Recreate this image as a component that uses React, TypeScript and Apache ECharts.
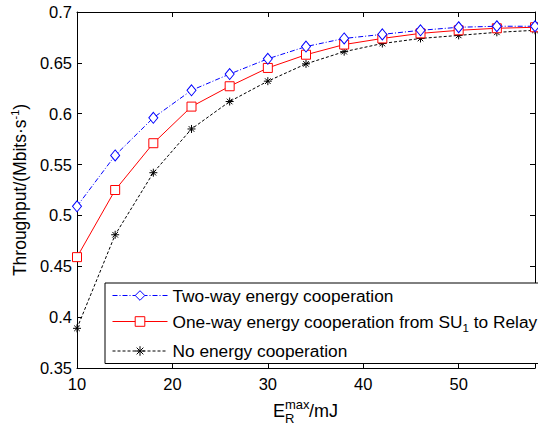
import React, { useEffect, useRef } from "react";
import * as echarts from "echarts";

const xValues = [10, 14, 18, 22, 26, 30, 34, 38, 42, 46, 50, 54, 58];
const twoWay = [0.509, 0.559, 0.596, 0.623, 0.639, 0.654, 0.666, 0.674, 0.678, 0.682, 0.685, 0.686, 0.686];
const oneWay = [0.459, 0.525, 0.571, 0.607, 0.627, 0.645, 0.658, 0.668, 0.674, 0.679, 0.682, 0.684, 0.685];
const noCoop = [0.389, 0.481, 0.542, 0.585, 0.612, 0.632, 0.649, 0.661, 0.669, 0.674, 0.677, 0.680, 0.682];
const seriesNames = [
  "Two-way energy cooperation",
  "One-way energy cooperation from SU1 to Relay",
  "No energy cooperation",
];

const FONT = "'Liberation Sans', Arial, sans-serif";
const ASTERISK = "path://M0,-1L0,1M-1,0L1,0M-0.7,-0.7L0.7,0.7M-0.7,0.7L0.7,-0.7";

const pairs = (ys: number[]) => xValues.map((x, i) => [x, ys[i]]);

export default function App() {
  const ref = useRef<HTMLDivElement>(null);
  useEffect(() => {
    if (!ref.current) return;
    const chart = echarts.init(ref.current, null, { renderer: "svg" });
    const axisCommon = {
      axisLine: { show: true, lineStyle: { color: "#000", width: 1 } },
      axisTick: { show: true, inside: true, length: 5, lineStyle: { color: "#000" } },
      splitLine: { show: false },
    };
    chart.setOption({
      animation: false,
      backgroundColor: "#fff",
      grid: { left: 77, right: 3, top: 12, bottom: 60, containLabel: false },
      xAxis: [
        {
          type: "value", min: 10, max: 58, interval: 10, position: "bottom",
          ...axisCommon,
          axisLabel: {
            color: "#000", fontSize: 16.5, fontFamily: FONT, margin: 7,
            showMaxLabel: false,
            formatter: (v: number) => (v % 10 === 0 ? String(v) : ""),
          },
        },
        {
          type: "value", min: 10, max: 58, interval: 10, position: "top",
          ...axisCommon, axisLabel: { show: false },
        },
      ],
      yAxis: [
        {
          type: "value", min: 0.35, max: 0.7, interval: 0.05, position: "left",
          ...axisCommon,
          axisLabel: { color: "#000", fontSize: 16.5, fontFamily: FONT, margin: 5 },
          name: "{a|Throughput/(Mbits·s}{sup|-1}{a|)}",
          nameLocation: "middle",
          nameRotate: 90,
          nameGap: 47,
          nameTextStyle: {
            rich: {
              a: { fontSize: 17.5, fontFamily: FONT, color: "#000", lineHeight: 20 },
              sup: { fontSize: 11, fontFamily: FONT, color: "#000", lineHeight: 20, verticalAlign: "top" },
            },
          },
        },
        {
          type: "value", min: 0.35, max: 0.7, interval: 0.05, position: "right",
          ...axisCommon, axisLabel: { show: false },
        },
      ],
      legend: {
        orient: "vertical",
        left: 105,
        top: 283,
        padding: [4, 6, 4, 7],
        itemGap: 9,
        itemWidth: 55,
        itemHeight: 12,
        borderColor: "#000",
        borderWidth: 1,
        backgroundColor: "#fff",
        z: 10,
        lineStyle: { width: 1 },
        itemStyle: { borderWidth: 1 },
        data: seriesNames,
        formatter: (name: string) =>
          name.indexOf("SU1") >= 0
            ? "{a|One-way energy cooperation from SU}{s|1}{a| to Relay}"
            : "{a|" + name + "}",
        textStyle: {
          rich: {
            a: { fontSize: 17.3, fontFamily: FONT, color: "#000", lineHeight: 20 },
            s: { fontSize: 11.5, fontFamily: FONT, color: "#000", lineHeight: 24, verticalAlign: "bottom" },
          },
        },
      },
      graphic: [
        { type: "text", x: 273, y: 410.7, style: { text: "E", fontSize: 18, fontFamily: FONT, fill: "#000", align: "left", verticalAlign: "middle" } },
        { type: "text", x: 285, y: 404, style: { text: "max", fontSize: 13, fontFamily: FONT, fill: "#000", align: "left", verticalAlign: "middle" } },
        { type: "text", x: 285, y: 418.2, style: { text: "R", fontSize: 13, fontFamily: FONT, fill: "#000", align: "left", verticalAlign: "middle" } },
        { type: "text", x: 309, y: 410.7, style: { text: "/mJ", fontSize: 18, fontFamily: FONT, fill: "#000", align: "left", verticalAlign: "middle" } },
      ],
      series: [
        {
          name: seriesNames[2], type: "line", data: pairs(noCoop),
          symbol: ASTERISK, symbolSize: 8,
          lineStyle: { color: "#000", width: 1, type: [3, 2] },
          itemStyle: { color: "#000", borderColor: "#000", borderWidth: 1 },
        },
        {
          name: seriesNames[1], type: "line", data: pairs(oneWay),
          symbol: "rect", symbolSize: 9,
          lineStyle: { color: "#ff0000", width: 1, type: "solid" },
          itemStyle: { color: "#fff", borderColor: "#ff0000", borderWidth: 1 },
        },
        {
          name: seriesNames[0], type: "line", data: pairs(twoWay),
          symbol: "diamond", symbolSize: [9, 11],
          lineStyle: { color: "#0000ff", width: 1, type: [5, 2, 1, 2] },
          itemStyle: { color: "#fff", borderColor: "#0000ff", borderWidth: 1 },
        },
      ],
    });
    return () => chart.dispose();
  }, []);
  return (
    <div
      ref={ref}
      style={{ position: "fixed", left: 0, top: 0, width: 538, height: 428, background: "#fff" }}
    />
  );
}
